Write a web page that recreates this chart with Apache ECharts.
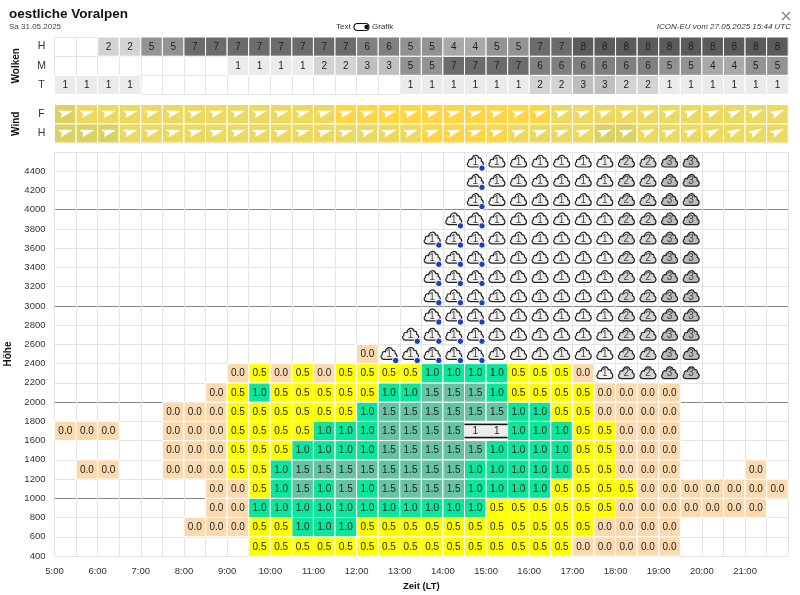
<!DOCTYPE html>
<html>
<head>
<meta charset="utf-8">
<title>oestliche Voralpen</title>
<script src="https://cdn.jsdelivr.net/npm/echarts@6/dist/echarts.min.js"></script>
<style>
    html, body { margin: 0; padding: 0; background: #fff; }
    #chart { width: 800px; height: 595px; }
</style>
</head>
<body>
<div id="chart"></div>
<script>
const _ = null;

// half hour columns, 5:00 to 22:00
const columnHours = [5,5.5,6,6.5,7,7.5,8,8.5,9,9.5,10,10.5,11,11.5,12,12.5,13,13.5,14,14.5,15,15.5,16,16.5,17,17.5,18,18.5,19,19.5,20,20.5,21,21.5];

// cloud cover in octas
const cloudHigh = [_,_,2,2,5,5,7,7,7,7,7,7,7,7,6,6,5,5,4,4,5,5,7,7,8,8,8,8,8,8,8,8,8,8];
const cloudMid  = [_,_,_,_,_,_,_,_,1,1,1,1,2,2,3,3,5,5,7,7,7,7,6,6,6,6,6,6,5,5,4,4,5,5];
const cloudLow  = [1,1,1,1,_,_,_,_,_,_,_,_,_,_,_,_,1,1,1,1,1,1,2,2,3,3,2,2,1,1,1,1,1,1];

// wind class and arrow rotation in degrees
const windClassF = [1,2,2,2,2,2,2,2,2,2,2,2,2,3,3,3,3,3,3,3,3,3,3,2,2,2,2,2,2,2,2,2,2,2];
const windClassH = [1,1,1,2,2,2,2,2,2,2,2,2,2,2,2,2,2,3,3,3,3,2,2,2,2,1,1,2,2,2,2,2,2,2];
const windTurnF = [0,0,0,0,0,0,2,2,2,2,2,2,2,2,2,2,2,2,2,2,2,2,4,4,4,5,5,5,7,7,8,8,10,10];
const windTurnH = [1,1,1,1,1,1,1,2,2,2,2,2,2,2,3,3,3,3,3,3,3,4,4,4,6,6,6,8,8,10,12,12,13,13];

// climb values by height of the lower cell edge
const climbRows = [400,600,800,1000,1200,1400,1600,1800,2000,2200,2400];
const climb400  = [_,_,_,_,_,_,_,_,_,.5,.5,.5,.5,.5,.5,.5,.5,.5,.5,.5,.5,.5,.5,.5,0,0,0,0,0,_,_,_,_,_];
const climb600  = [_,_,_,_,_,_,0,0,0,.5,.5,1,1,1,.5,.5,.5,.5,.5,.5,.5,.5,.5,.5,.5,0,0,0,0,_,_,_,_,_];
const climb800  = [_,_,_,_,_,_,_,0,0,1,1,1,1,1,1,1,1,1,1,1,.5,.5,.5,.5,.5,.5,0,0,0,0,0,0,0,_];
const climb1000 = [_,_,_,_,_,_,_,0,0,.5,1,1.5,1,1.5,1,1.5,1.5,1.5,1.5,1,1,1,1,.5,.5,.5,.5,0,0,0,0,0,0,0];
const climb1200 = [_,0,0,_,_,0,0,0,.5,.5,1,1.5,1.5,1.5,1.5,1.5,1.5,1.5,1.5,1,1,1,1,1,.5,.5,0,0,0,_,_,_,0,_];
const climb1400 = [_,_,_,_,_,0,0,0,.5,.5,.5,1,1,1,1,1.5,1.5,1.5,1.5,1.5,1,1,1,1,.5,.5,0,0,0,_,_,_,_,_];
const climb1600 = [0,0,0,_,_,0,0,0,.5,.5,.5,.5,1,1,1,1.5,1.5,1.5,1.5,_,_,1,1,1,.5,.5,0,0,0,_,_,_,_,_];
const climb1800 = [_,_,_,_,_,0,0,0,.5,.5,.5,.5,.5,.5,1,1.5,1.5,1.5,1.5,1.5,1.5,1,1,.5,.5,0,0,0,0,_,_,_,_,_];
const climb2000 = [_,_,_,_,_,_,_,0,.5,1,.5,.5,.5,.5,.5,1,1,1.5,1.5,1.5,1,.5,.5,.5,.5,0,0,0,0,_,_,_,_,_];
const climb2200 = [_,_,_,_,_,_,_,_,0,.5,0,.5,0,.5,.5,.5,.5,1,1,1,1,.5,.5,.5,0,_,_,_,_,_,_,_,_,_];
const climb2400 = [_,_,_,_,_,_,_,_,_,_,_,_,_,_,0,_,_,_,_,_,_,_,_,_,_,_,_,_,_,_,_,_,_,_];
const climbTable = [climb400,climb600,climb800,climb1000,climb1200,climb1400,climb1600,climb1800,climb2000,climb2200,climb2400];

// cumulus stacks per column
const stackBottom = [_,_,_,_,_,_,_,_,_,_,_,_,_,_,_,2400,2400,2400,2400,2400,2400,2400,2400,2400,2400,2200,2200,2200,2200,2200,_,_,_,_];
const stackTop    = [_,_,_,_,_,_,_,_,_,_,_,_,_,_,_,2600,2800,3800,4000,4600,4600,4600,4600,4600,4600,4600,4600,4600,4600,4600,_,_,_,_];
const stackOcta   = [_,_,_,_,_,_,_,_,_,_,_,_,_,_,_,1,1,1,1,1,1,1,1,1,1,1,2,2,3,3,_,_,_,_];
const stackRain   = [0,0,0,0,0,0,0,0,0,0,0,0,0,0,0,1,1,1,1,1,0,0,0,0,0,0,0,0,0,0,0,0,0,0];

// thin layer at 1600 m
const layerHeight = 1600;
const layerOcta = [_,_,_,_,_,_,_,_,_,_,_,_,_,_,_,_,_,_,_,1,1,_,_,_,_,_,_,_,_,_,_,_,_,_];

const heightTicks = [400,600,800,1000,1200,1400,1600,1800,2000,2200,2400,2600,2800,3000,3200,3400,3600,3800,4000,4200,4400];
const timeTicks = ['5:00','6:00','7:00','8:00','9:00','10:00','11:00','12:00','13:00','14:00','15:00','16:00','17:00','18:00','19:00','20:00','21:00'];

const coverColors = {1:'#ebebeb',2:'#d3d3d3',3:'#bfbfbf',4:'#a9a9a9',5:'#939393',6:'#808080',7:'#6c6c6c',8:'#5b5b5b'};
const windColors = {1:'#dcd264',2:'#ecd95f',3:'#fdd545'};
const climbColors = {0:'#fcdab0',0.5:'#ffff00',1:'#0be69b',1.5:'#66c4a4'};
const stackFills = {1:'#f1f1f1',2:'#d6d6d6',3:'#bcbcbc'};

const fontName = '"Liberation Sans", Arial, sans-serif';
const cloudPath = 'M4.5 15.5C1.2 15.5 -0.4 11.6 2.4 9.8C1.9 7.2 4.4 5.6 6.2 6.6C7 1 13.2 0 14.4 5C16.4 4.4 18.2 6.2 17.4 8.6C20.8 9.6 20.4 15.5 16.4 15.5Z';
const arrowPath = 'M0 0L15 0.5L3 7.5L4 3Z';

// one list per panel, built from the arrays above
const coverData = [];
[cloudLow, cloudMid, cloudHigh].forEach(function (row, r) {
    row.forEach(function (v, i) {
        if (v !== null) coverData.push([columnHours[i], r, v]);
    });
});

const windData = [];
[[windClassH, windTurnH], [windClassF, windTurnF]].forEach(function (row, r) {
    row[0].forEach(function (v, i) {
        windData.push([columnHours[i], r, v, row[1][i]]);
    });
});

const climbData = [];
climbTable.forEach(function (row, r) {
    row.forEach(function (v, i) {
        if (v !== null) climbData.push([columnHours[i], climbRows[r], v]);
    });
});

const stackData = [];
columnHours.forEach(function (h, i) {
    if (stackBottom[i] === null) return;
    for (let z = stackBottom[i]; z < stackTop[i]; z += 200) {
        stackData.push([h, z, stackOcta[i], stackRain[i]]);
    }
});

const layerData = [];
layerOcta.forEach(function (v, i) {
    if (v !== null) layerData.push([columnHours[i], layerHeight, v]);
});

function cellLabel(cx, cy, text) {
    return {
        type: 'text',
        style: { x: cx, y: cy, text: text, fill: '#222', font: '10px ' + fontName, align: 'center', verticalAlign: 'middle' }
    };
}

function renderCover(params, api) {
    const c = api.coord([api.value(0), api.value(1)]);
    const w = api.size([0.5, 0])[0];
    const h = api.size([0, 1])[1];
    const v = api.value(2);
    return {
        type: 'group',
        children: [
            { type: 'rect', shape: { x: c[0], y: c[1] - h / 2, width: w, height: h }, style: { fill: coverColors[v], stroke: '#fff', lineWidth: 1 } },
            cellLabel(c[0] + w / 2, c[1] + 0.5, String(v))
        ]
    };
}

function renderWind(params, api) {
    const c = api.coord([api.value(0), api.value(1)]);
    const w = api.size([0.5, 0])[0];
    const h = api.size([0, 1])[1];
    return {
        type: 'group',
        children: [
            { type: 'rect', shape: { x: c[0], y: c[1] - h / 2, width: w, height: h }, style: { fill: windColors[api.value(2)], stroke: '#fff', lineWidth: 1 } },
            {
                type: 'path',
                x: c[0] + w / 2,
                y: c[1],
                rotation: api.value(3) * Math.PI / 180,
                shape: { pathData: arrowPath, x: -7.5, y: -3.7, width: 15, height: 7.5 },
                style: { fill: '#fff' }
            }
        ]
    };
}

function renderClimb(params, api) {
    const a = api.coord([api.value(0), api.value(1) + 200]);
    const b = api.coord([api.value(0) + 0.5, api.value(1)]);
    const v = api.value(2);
    return {
        type: 'group',
        children: [
            { type: 'rect', shape: { x: a[0], y: a[1], width: b[0] - a[0], height: b[1] - a[1] }, style: { fill: climbColors[v], stroke: '#fff', lineWidth: 1 } },
            cellLabel((a[0] + b[0]) / 2, (a[1] + b[1]) / 2 + 0.5, v.toFixed(1))
        ]
    };
}

function renderStack(params, api) {
    const a = api.coord([api.value(0), api.value(1) + 200]);
    const b = api.coord([api.value(0) + 0.5, api.value(1)]);
    const cx = (a[0] + b[0]) / 2;
    const cy = (a[1] + b[1]) / 2;
    const children = [
        {
            type: 'path',
            shape: { pathData: cloudPath, x: cx - 8, y: cy - 7.5, width: 16, height: 14 },
            style: { fill: stackFills[api.value(2)], stroke: '#222', lineWidth: 1.2 }
        },
        {
            type: 'text',
            style: { x: cx, y: cy + 0.5, text: String(api.value(2)), fill: '#444', font: '10px ' + fontName, align: 'center', verticalAlign: 'middle' }
        }
    ];
    if (api.value(3)) {
        children.push({
            type: 'circle',
            shape: { cx: cx + 6.7, cy: cy + 6.5, r: 3.2 },
            style: { fill: '#1d3fb8', stroke: '#fff', lineWidth: 1 }
        });
    }
    return { type: 'group', children: children };
}

function renderLayer(params, api) {
    const a = api.coord([api.value(0), api.value(1) + 200]);
    const b = api.coord([api.value(0) + 0.5, api.value(1)]);
    return {
        type: 'group',
        children: [
            { type: 'rect', shape: { x: a[0], y: a[1], width: b[0] - a[0], height: b[1] - a[1] }, style: { fill: '#fff' } },
            { type: 'rect', shape: { x: a[0], y: a[1] + 3, width: b[0] - a[0], height: b[1] - a[1] - 6 }, style: { fill: '#ececec' } },
            { type: 'line', shape: { x1: a[0], y1: a[1] + 3, x2: b[0], y2: a[1] + 3 }, style: { stroke: '#111', lineWidth: 1.6 } },
            { type: 'line', shape: { x1: a[0], y1: b[1] - 3, x2: b[0], y2: b[1] - 3 }, style: { stroke: '#111', lineWidth: 1.6 } },
            cellLabel((a[0] + b[0]) / 2, (a[1] + b[1]) / 2 + 0.5, String(api.value(2)))
        ]
    };
}

function timeAxis(gridIndex, showLabels) {
    return {
        type: 'value',
        gridIndex: gridIndex,
        min: 5,
        max: 22,
        interval: 0.5,
        name: showLabels ? 'Zeit (LT)' : '',
        nameLocation: 'middle',
        nameGap: 19,
        nameTextStyle: { color: '#111', fontSize: 9.5, fontWeight: 'bold', fontFamily: fontName },
        axisLine: { show: false },
        axisTick: { show: false },
        splitLine: { show: true, lineStyle: { color: '#e4e4e4', width: 1 } },
        axisLabel: {
            show: showLabels,
            color: '#333',
            fontSize: 9.5,
            fontFamily: fontName,
            margin: 10,
            showMaxLabel: false,
            formatter: function (value) {
                const idx = value - 5;
                return Number.isInteger(value) && timeTicks[idx] ? timeTicks[idx] : '';
            }
        }
    };
}

function rowAxis(gridIndex, rows, name) {
    return {
        type: 'category',
        gridIndex: gridIndex,
        data: rows,
        name: name,
        nameLocation: 'middle',
        nameRotate: 90,
        nameGap: 33,
        nameTextStyle: { color: '#111', fontSize: 10, fontWeight: 'bold', fontFamily: fontName },
        axisLine: { show: false },
        axisTick: { show: false },
        splitLine: { show: true, lineStyle: { color: '#e4e4e4', width: 1 } },
        axisLabel: { color: '#333', fontSize: 10.5, fontFamily: fontName, align: 'center', margin: 13 }
    };
}

const chart = echarts.init(document.getElementById('chart'));

const option = {
    animation: false,
    backgroundColor: '#fff',
    textStyle: { fontFamily: fontName },
    title: [
        { text: 'oestliche Voralpen', left: 9, top: 7, padding: 0, textStyle: { color: '#111', fontSize: 13.5, fontWeight: 'bold', fontFamily: fontName } },
        { text: 'Sa 31.05.2025', left: 9, top: 23, padding: 0, textStyle: { color: '#444', fontSize: 8, fontWeight: 'normal', fontFamily: fontName } },
        { text: 'ICON-EU vom 27.05.2025 15:44 UTC', right: 9, top: 23, padding: 0, textStyle: { color: '#333', fontSize: 8, fontStyle: 'italic', fontWeight: 'normal', fontFamily: fontName } }
    ],
    graphic: [
        { type: 'text', x: 336, y: 23, style: { text: 'Text', fill: '#333', font: '8px ' + fontName } },
        { type: 'text', x: 372, y: 23, style: { text: 'Grafik', fill: '#333', font: '8px ' + fontName } },
        { type: 'rect', shape: { x: 354, y: 23.5, width: 15, height: 7, r: 3.5 }, style: { fill: '#fff', stroke: '#111', lineWidth: 1.1 } },
        { type: 'circle', shape: { cx: 366.5, cy: 27, r: 2.2 }, style: { fill: '#111' } },
        { type: 'line', shape: { x1: 782, y1: 12, x2: 790, y2: 20 }, style: { stroke: '#888', lineWidth: 1.4 } },
        { type: 'line', shape: { x1: 790, y1: 12, x2: 782, y2: 20 }, style: { stroke: '#888', lineWidth: 1.4 } }
    ],
    grid: [
        { left: 54.5, top: 37, width: 733.7, height: 57.5, outerBoundsMode: 'none' },
        { left: 54.5, top: 104.5, width: 733.7, height: 38.5, outerBoundsMode: 'none' },
        { left: 54.5, top: 152, width: 733.7, height: 404, outerBoundsMode: 'none' }
    ],
    xAxis: [timeAxis(0, false), timeAxis(1, false), timeAxis(2, true)],
    yAxis: [
        rowAxis(0, ['T', 'M', 'H'], 'Wolken'),
        rowAxis(1, ['H', 'F'], 'Wind'),
        {
            type: 'value',
            gridIndex: 2,
            min: 400,
            max: 4600,
            interval: 200,
            name: 'Höhe',
            nameLocation: 'middle',
            nameRotate: 90,
            nameGap: 33,
            nameTextStyle: { color: '#111', fontSize: 10, fontWeight: 'bold', fontFamily: fontName },
            axisLine: { show: false },
            axisTick: { show: false },
            splitLine: { show: true, lineStyle: { color: ['#e4e4e4', '#e4e4e4', '#e4e4e4', '#8a8a8a', '#e4e4e4'], width: 1 } },
            axisLabel: {
                color: '#333',
                fontSize: 9.5,
                fontFamily: fontName,
                margin: 9,
                formatter: function (value) {
                    return heightTicks.indexOf(value) >= 0 ? String(value) : '';
                }
            }
        }
    ],
    series: [
        { type: 'custom', silent: true, xAxisIndex: 0, yAxisIndex: 0, data: coverData, renderItem: renderCover, encode: { x: 0, y: 1 }, clip: false },
        { type: 'custom', silent: true, xAxisIndex: 1, yAxisIndex: 1, data: windData, renderItem: renderWind, encode: { x: 0, y: 1 }, clip: false },
        { type: 'custom', silent: true, xAxisIndex: 2, yAxisIndex: 2, data: climbData, renderItem: renderClimb, encode: { x: 0, y: 1 }, clip: false },
        { type: 'custom', silent: true, xAxisIndex: 2, yAxisIndex: 2, data: stackData, renderItem: renderStack, encode: { x: 0, y: 1 }, clip: false },
        { type: 'custom', silent: true, xAxisIndex: 2, yAxisIndex: 2, data: layerData, renderItem: renderLayer, encode: { x: 0, y: 1 }, clip: false }
    ]
};

chart.setOption(option);
window.addEventListener('resize', function () { chart.resize(); });
</script>
</body>
</html>
